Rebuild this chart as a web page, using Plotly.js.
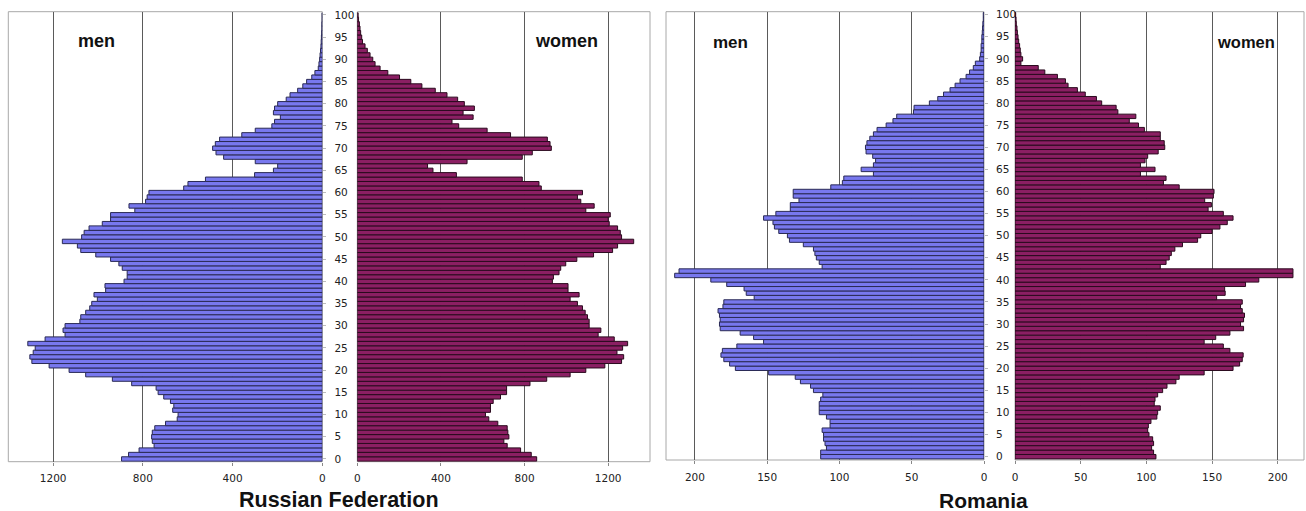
<!DOCTYPE html>
<html><head><meta charset="utf-8">
<script src="https://cdn.plot.ly/plotly-3.0.1.min.js"></script>
<style>html,body{margin:0;padding:0;background:#fff}#chart{width:1306px;height:511px}</style>
</head><body><div id="chart"></div>
<script>
// ages 0..100 (categories)
const ages = Array.from({length: 101}, (_, i) => i);
const ageTicks = [0,5,10,15,20,25,30,35,40,45,50,55,60,65,70,75,80,85,90,95,100];
const ruTicks = [0, 400, 800, 1200];
const roTicks = [0, 50, 100, 150, 200];

// Russian Federation, thousands, age 0 .. 100
const ruMen = [895,864,817,750,758,761,758,747,699,647,
  643,667,662,677,707,732,741,850,936,1055,
  1129,1218,1295,1304,1289,1280,1313,1236,1147,1156,
  1147,1081,1077,1055,1037,1028,1003,1018,966,969,
  884,870,870,892,907,944,1010,1077,1092,1159,
  1073,1062,1040,981,944,944,836,862,788,781,
  773,618,599,521,302,218,199,299,440,474,
  489,477,458,359,299,225,213,187,218,213,
  199,161,144,110,87,70,47,33,18,15,
  12,10,8,6,5,4,3,2,2,1,1];
const ruWomen = [858,832,781,717,701,725,720,717,672,629,
  613,637,637,650,685,714,714,826,906,1018,
  1093,1184,1264,1274,1242,1269,1293,1229,1152,1165,
  1109,1109,1101,1090,1077,1053,1018,1061,1008,1008,
  933,938,965,973,997,1050,1130,1221,1245,1322,
  1264,1258,1245,1205,1200,1210,1093,1133,1069,1053,
  1077,880,869,789,474,362,336,525,789,837,
  928,922,909,733,621,485,453,554,506,560,
  512,480,429,373,309,256,202,146,109,85,
  74,61,48,37,25,21,16,13,10,6,4];

// Romania, thousands, age 0 .. 100
const roMen = [113,113,109,110,111,111,112,106.5,106.5,109,
  114,114,114,113,111.5,118,120,127,130.6,149,
  172,176,180,182,181,171,152.5,159.4,168.7,182.5,
  183,182.5,183,184,180.6,180,159,164.5,166,178,
  189,214,211,112,114,116,117,118,125,134.6,
  136,142,145,146,152.5,144,134,134,128,132,
  132,106,98,97,76.5,85,76.5,75,77,81.6,
  82,81,79,76.5,74,67.7,63,60.4,48.8,48.4,
  37.8,32,28,23.5,20,16.6,12.4,10,7.4,6,
  3,2.5,2,2,1.5,1.5,1.2,1,0.8,0.5,0.5];
const roWomen = [107.3,105.5,104,105.5,104.8,102,101,101.5,103.5,108,
  108.6,110.6,106,106.6,108.6,112.4,115.7,122.5,125,144,
  166,171,173,173.7,163.6,158.6,144,152.8,163.6,174,
  171.7,174,174.7,173,171.7,173,153.5,160,159.6,175.5,
  185.6,211.6,211.6,110.6,115,117.4,119,121.7,127.5,139,
  141.4,150,156,161.6,166,158.6,147,149.5,144.4,151,
  151.5,125,113,115,95.5,106.6,95.5,99,101,109,
  114,113.6,110.6,110.6,98.5,94,87,92,78.3,77,
  66,62,53.5,47.5,40.4,38.4,32.3,22.7,17.7,4.5,
  5.8,4.5,4,3.5,2.8,2.3,1.8,1.5,1,0.8,0.5];

const W = 1306, H = 511;
const px = x => x / W;
const py = y => (H - y) / H;

const menFill = '#7878ee', menLine = '#2a2a55';
const womenFill = '#8b1f63', womenLine = '#2a0a1e';
const gridC = '#5a5a5a', frameC = '#a8a8a8';
const tickFont = {family: 'DejaVu Sans, Verdana, sans-serif', size: 10.5, color: '#222'};

function barTrace(vals, xa, ya, fill, line) {
  return {type: 'bar', orientation: 'h', x: vals, y: ages, xaxis: xa, yaxis: ya,
    marker: {color: fill, line: {color: line, width: 1}}, hoverinfo: 'skip'};
}

const data = [
  barTrace(ruMen, 'x', 'y', menFill, menLine),
  barTrace(ruWomen, 'x2', 'y2', womenFill, womenLine),
  barTrace(roMen, 'x3', 'y3', menFill, menLine),
  barTrace(roWomen, 'x4', 'y4', womenFill, womenLine)
];

function xAx(dom, range, anchor, ticks) {
  return {domain: dom, range: range, anchor: anchor, tickvals: ticks, ticktext: ticks.map(String),
    ticks: 'outside', ticklen: 3, tickcolor: '#888', showgrid: true, gridcolor: gridC, gridwidth: 1,
    zeroline: false, showline: false, tickfont: tickFont, ticklabelstandoff: 4, fixedrange: true};
}
function yAx(dom, range, anchor, labels) {
  return {domain: dom, range: range, anchor: anchor, side: 'right', tickvals: ageTicks,
    ticks: labels ? 'outside' : '', ticklen: 3, tickcolor: '#bbb', showticklabels: labels,
    showgrid: false, zeroline: false, showline: false, tickfont: tickFont,
    ticklabelstandoff: 6, fixedrange: true};
}

const ruY = [py(461.7), py(11.7)], ruYR = [-0.61, 100.74];
const roY = [py(460), py(11.7)], roYR = [-0.75, 100.68];

function frame(x0, x1, y0, y1) {
  return {type: 'rect', xref: 'paper', yref: 'paper', x0: px(x0), x1: px(x1), y0: py(y1), y1: py(y0),
    line: {color: frameC, width: 1}, layer: 'below'};
}

const lbl = (t, x, y, size) => ({text: '<b>' + t + '</b>', x: px(x), y: py(y), xref: 'paper', yref: 'paper',
  xanchor: 'center', yanchor: 'middle', showarrow: false,
  font: {family: 'Liberation Sans, Arial, sans-serif', size: size, color: '#111'}});

const layout = {
  width: W, height: H, margin: {l: 0, r: 0, t: 0, b: 0},
  paper_bgcolor: '#fff', plot_bgcolor: 'rgba(0,0,0,0)', showlegend: false, bargap: 0,
  xaxis: xAx([px(8.3), px(322.3)], [1400, 0], 'y', ruTicks),
  yaxis: yAx(ruY, ruYR, 'x', true),
  xaxis2: xAx([px(357.3), px(650)], [0, 1400], 'y2', ruTicks),
  yaxis2: yAx(ruY, ruYR, 'x2', false),
  xaxis3: xAx([px(666), px(984)], [220, 0], 'y3', roTicks),
  yaxis3: yAx(roY, roYR, 'x3', true),
  xaxis4: xAx([px(1015), px(1304)], [0, 220], 'y4', roTicks),
  yaxis4: yAx(roY, roYR, 'x4', false),
  shapes: [
    frame(8.3, 322.3, 11.7, 461.7), frame(357.3, 650, 11.7, 461.7),
    frame(666, 984, 11.7, 460), frame(1015, 1304, 11.7, 460)
  ],
  annotations: [
    lbl('men', 96, 41, 18), lbl('women', 566, 41, 18),
    lbl('men', 730, 42, 17), lbl('women', 1246, 42, 16.5),
    lbl('Russian Federation', 338.5, 500, 21.5), lbl('Romania', 983.5, 500, 21)
  ]
};

Plotly.newPlot('chart', data, layout, {staticPlot: true, displayModeBar: false});
</script></body></html>
